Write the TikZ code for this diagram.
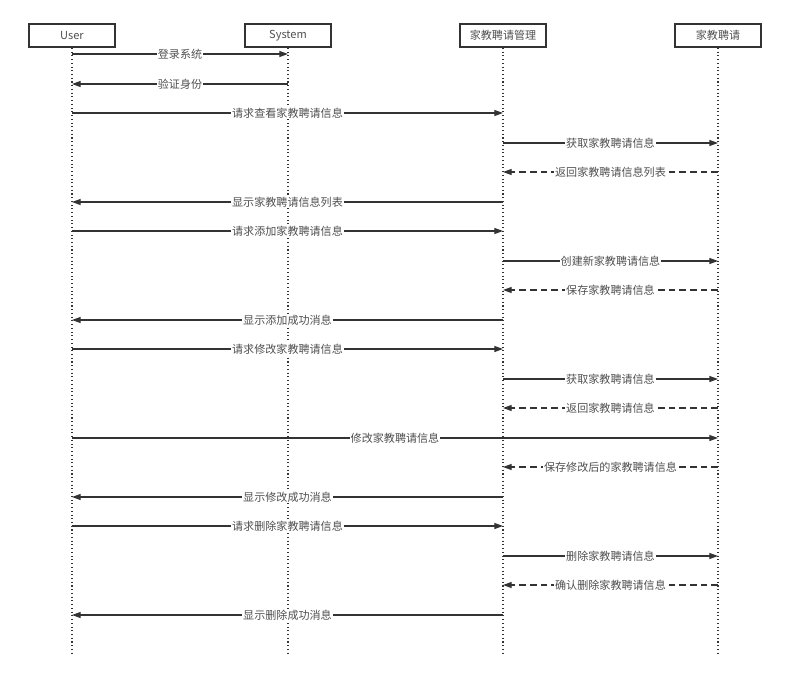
\documentclass[tikz,border=0pt]{standalone}
\usepackage{fontspec}
\setmainfont{Noto Sans CJK SC}
\usepackage{xcolor}
\usetikzlibrary{arrows.meta, positioning}
\definecolor{linegray}{HTML}{333333}
\definecolor{textgray}{HTML}{505050}

\begin{document}
\begin{tikzpicture}[
    x=0.75pt, y=-0.75pt,
    actor/.style={rectangle, draw=linegray, line width=1.3pt, minimum width=64.5pt, minimum height=17.25pt, font=\fontsize{8.3}{9}\selectfont, text=textgray, inner sep=1pt},
    life/.style={dotted, line width=0.8pt, linegray},
    msg/.style={-{Triangle[length=6.5pt, width=4.5pt]}, line width=0.9pt, linegray},
    ret/.style={msg, dashed, dash pattern=on 5pt off 3pt},
    lbl/.style={fill=white, inner sep=0.8pt, font=\fontsize{8.3}{9}\selectfont, text=textgray}
]
    \useasboundingbox (0,0) rectangle (793,686);
    \node[actor] (user) at (72,35.5) {User};
    \node[actor] (sys) at (288,35.5) {System};
    \node[actor] (mgr) at (503,35.5) {家教聘请管理};
    \node[actor] (hire) at (718,35.5) {家教聘请};

    \coordinate (userend) at (72,655);
    \coordinate (sysend) at (288,655);
    \coordinate (mgrend) at (503,655);
    \coordinate (hireend) at (718,655);

    \draw[life] (user) -- (userend);
    \draw[life] (sys) -- (sysend);
    \draw[life] (mgr) -- (mgrend);
    \draw[life] (hire) -- (hireend);

    % login
    \draw[msg] (user |- 0,54) -- node[lbl] {登录系统} (sys |- 0,54);
    \draw[msg] (sys |- 0,84) -- node[lbl] {验证身份} (user |- 0,84);

    % view
    \draw[msg] (user |- 0,113) -- node[lbl] {请求查看家教聘请信息} (mgr |- 0,113);
    \draw[msg] (mgr |- 0,143) -- node[lbl] {获取家教聘请信息} (hire |- 0,143);
    \draw[ret] (hire |- 0,172) -- node[lbl] {返回家教聘请信息列表} (mgr |- 0,172);
    \draw[msg] (mgr |- 0,202) -- node[lbl] {显示家教聘请信息列表} (user |- 0,202);

    % add
    \draw[msg] (user |- 0,231) -- node[lbl] {请求添加家教聘请信息} (mgr |- 0,231);
    \draw[msg] (mgr |- 0,261) -- node[lbl] {创建新家教聘请信息} (hire |- 0,261);
    \draw[ret] (hire |- 0,290) -- node[lbl] {保存家教聘请信息} (mgr |- 0,290);
    \draw[msg] (mgr |- 0,320) -- node[lbl] {显示添加成功消息} (user |- 0,320);

    % edit
    \draw[msg] (user |- 0,349) -- node[lbl] {请求修改家教聘请信息} (mgr |- 0,349);
    \draw[msg] (mgr |- 0,379) -- node[lbl] {获取家教聘请信息} (hire |- 0,379);
    \draw[ret] (hire |- 0,408) -- node[lbl] {返回家教聘请信息} (mgr |- 0,408);
    \draw[msg] (user |- 0,438) -- node[lbl] {修改家教聘请信息} (hire |- 0,438);
    \draw[ret] (hire |- 0,467) -- node[lbl] {保存修改后的家教聘请信息} (mgr |- 0,467);
    \draw[msg] (mgr |- 0,497) -- node[lbl] {显示修改成功消息} (user |- 0,497);

    % delete
    \draw[msg] (user |- 0,526) -- node[lbl] {请求删除家教聘请信息} (mgr |- 0,526);
    \draw[msg] (mgr |- 0,556) -- node[lbl] {删除家教聘请信息} (hire |- 0,556);
    \draw[ret] (hire |- 0,585) -- node[lbl] {确认删除家教聘请信息} (mgr |- 0,585);
    \draw[msg] (mgr |- 0,615) -- node[lbl] {显示删除成功消息} (user |- 0,615);
\end{tikzpicture}
\end{document}
